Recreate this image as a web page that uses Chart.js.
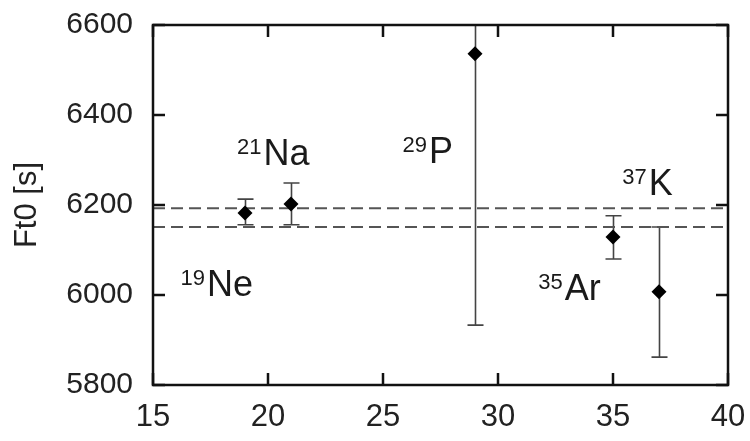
<!DOCTYPE html>
<html>
<head>
<meta charset="utf-8">
<script src="https://cdn.jsdelivr.net/npm/chart.js@4"></script>
<style>
  html, body { margin:0; padding:0; background:#fff; }
  #wrap { width:750px; height:441px; }
</style>
</head>
<body>
<div id="wrap"><canvas id="myChart" width="750" height="441"></canvas></div>
<script>
  'use strict';

  // nuclei: mass number, Z-position on x axis, Ft0 value and errors
  const nucMass   = ['19', '21', '29', '35', '37'];
  const nucName   = ['Ne', 'Na', 'P', 'Ar', 'K'];
  const nucX      = [19, 21, 29, 35, 37];
  const nucFt     = [6182, 6202, 6536, 6129, 6007];
  const nucErrUp  = [31, 47, 603, 47, 144];
  const nucErrLo  = [26, 46, 603, 49, 145];

  // label anchors in data units (left edge of superscript, main baseline)
  const labelX    = [16.2, 18.65, 25.85, 31.75, 35.4];
  const labelY    = [5998, 6289, 6293, 5989, 6222];

  // average band (dashed lines)
  const bandVals  = [6193, 6151];
  const xRange    = [15, 40];
  const yRange    = [5800, 6600];

  const FONT = '"Liberation Sans", Arial, Helvetica, sans-serif';

  const points = nucX.map((x, i) => ({ x, y: nucFt[i] }));

  const bandSets = bandVals.map(v => ({
    type: 'line',
    data: [{ x: xRange[0], y: v }, { x: xRange[1], y: v }],
    borderColor: '#555',
    borderWidth: 2,
    borderDash: [12, 6],
    pointRadius: 0,
    fill: false
  }));

  // error bars, frame with inward ticks, isotope labels
  const extras = {
    id: 'extras',
    beforeDatasetsDraw(chart){
      const { ctx, chartArea: a, scales: { x, y } } = chart;
      ctx.save();
      ctx.beginPath();
      ctx.rect(a.left, a.top, a.right - a.left, a.bottom - a.top);
      ctx.clip();
      ctx.strokeStyle = '#444';
      ctx.lineWidth = 1.6;
      nucX.forEach((xv, i) => {
        const px = Math.round(x.getPixelForValue(xv)) + 0.5;
        const top = y.getPixelForValue(nucFt[i] + nucErrUp[i]);
        const bot = y.getPixelForValue(nucFt[i] - nucErrLo[i]);
        ctx.beginPath();
        ctx.moveTo(px, top); ctx.lineTo(px, bot);
        ctx.moveTo(px - 8, top); ctx.lineTo(px + 8, top);
        ctx.moveTo(px - 8, bot); ctx.lineTo(px + 8, bot);
        ctx.stroke();
      });
      ctx.restore();
    },
    afterDatasetsDraw(chart){
      const { ctx, chartArea: a, scales: { x, y } } = chart;
      ctx.save();
      // ticks pointing inward on all four sides
      ctx.strokeStyle = '#111';
      ctx.lineWidth = 2.5;
      const tl = 12;
      x.ticks.forEach(t => {
        const px = x.getPixelForValue(t.value);
        ctx.beginPath();
        ctx.moveTo(px, a.bottom); ctx.lineTo(px, a.bottom - tl);
        ctx.moveTo(px, a.top); ctx.lineTo(px, a.top + tl);
        ctx.stroke();
      });
      y.ticks.forEach(t => {
        const py = y.getPixelForValue(t.value);
        ctx.beginPath();
        ctx.moveTo(a.left, py); ctx.lineTo(a.left + tl, py);
        ctx.moveTo(a.right, py); ctx.lineTo(a.right - tl, py);
        ctx.stroke();
      });
      ctx.lineWidth = 2.5;
      ctx.strokeRect(a.left, a.top, a.right - a.left, a.bottom - a.top);

      // labels like 19Ne with superscript mass number
      ctx.fillStyle = '#1a1a1a';
      ctx.textBaseline = 'alphabetic';
      ctx.textAlign = 'left';
      nucMass.forEach((m, i) => {
        const px = x.getPixelForValue(labelX[i]);
        const py = y.getPixelForValue(labelY[i]);
        ctx.font = '22px ' + FONT;
        ctx.fillText(m, px, py - 11);
        const w = ctx.measureText(m).width;
        ctx.font = '36px ' + FONT;
        ctx.fillText(nucName[i], px + w + 2, py);
      });
      ctx.restore();
    }
  };

  const ctx = document.getElementById('myChart').getContext('2d');
  new Chart(ctx, {
    type: 'scatter',
    data: {
      datasets: [
        {
          label: 'Ft0',
          data: points,
          pointStyle: 'rectRot',
          pointRadius: 7.5,
          pointHoverRadius: 7.5,
          backgroundColor: '#000',
          borderColor: '#000',
          borderWidth: 0
        },
        ...bandSets
      ]
    },
    options: {
      responsive: false,
      animation: false,
      events: [],
      layout: { padding: { top: 25, right: 22, left: 0, bottom: 0 } },
      plugins: { legend: { display: false }, tooltip: { enabled: false } },
      scales: {
        x: {
          type: 'linear',
          min: xRange[0], max: xRange[1],
          afterFit(s){ s.height = 56; s.paddingLeft = 0; s.paddingRight = 0; },
          grid: { display: false, drawTicks: false },
          border: { display: false },
          ticks: { stepSize: 5, padding: 14, color: '#222', font: { size: 31, family: FONT },
                   callback: v => String(v) }
        },
        y: {
          min: yRange[0], max: yRange[1],
          afterFit(s){ s.width = 153; s.paddingTop = 0; s.paddingBottom = 0; },
          grid: { display: false, drawTicks: false },
          border: { display: false },
          ticks: { stepSize: 200, padding: 20, color: '#222', font: { size: 30, family: FONT },
                   callback: v => String(v) },
          title: {
            display: true, text: 'Ft0 [s]', color: '#222',
            font: { size: 31, family: FONT },
            padding: { top: 9, bottom: 0 }
          }
        }
      }
    },
    plugins: [extras]
  });
</script>
</body>
</html>
